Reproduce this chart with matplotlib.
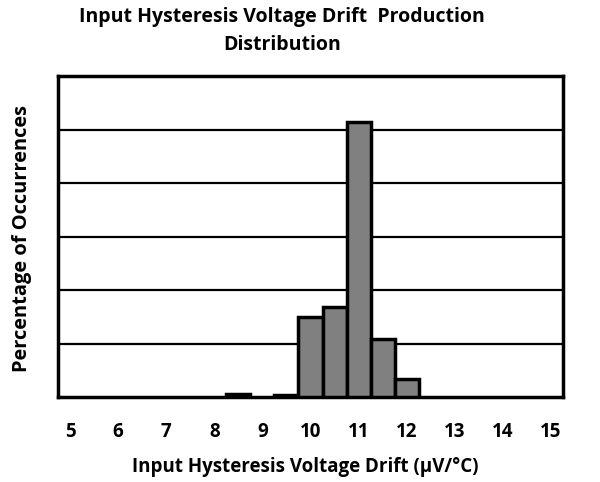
import matplotlib
matplotlib.use("Agg")
import matplotlib.pyplot as plt

# Data (bin centers in µV/°C, percentage of occurrences)
bin_centers = [8.5, 9.5, 10.0, 10.5, 11.0, 11.5, 12.0]
percentages = [0.5, 0.3, 14.9, 16.9, 51.4, 10.9, 3.3]
x_ticks = [5, 6, 7, 8, 9, 10, 11, 12, 13, 14, 15]

plt.rcParams['font.family'] = ['Open Sans', 'DejaVu Sans']

fig = plt.figure(figsize=(6, 4.82), dpi=100)
ax = fig.add_axes([58/600, 1-397/482, (563-58)/600, (397-76)/482])

ax.set_axisbelow(True)
ax.bar(bin_centers, percentages, width=0.5, color='#808080', edgecolor='black', linewidth=2.5, zorder=3)

ax.set_xlim(4.75, 15.25)
ax.set_ylim(0, 60)
ax.set_yticks([10, 20, 30, 40, 50])
ax.yaxis.grid(True, color='black', linewidth=1.6)
ax.set_yticklabels([])
ax.tick_params(axis='y', length=0)
ax.set_xticks(x_ticks)
ax.set_xticklabels([str(t) for t in x_ticks], fontsize=13.5, fontweight='bold')
ax.tick_params(axis='x', length=0, pad=18)
for s in ax.spines.values():
    s.set_linewidth(2.5)
    s.set_color('black')

fig.text(282/600, 1-17/482, 'Input Hysteresis Voltage Drift  Production', ha='center', va='center',
         fontsize=14, fontweight='bold')
fig.text(282/600, 1-45/482, 'Distribution', ha='center', va='center', fontsize=14, fontweight='bold')
fig.text(22/600, 1-238/482, 'Percentage of Occurrences', rotation=90, ha='center', va='center',
         fontsize=14.4, fontweight='bold')
fig.text(305/600, 1-467/482, 'Input Hysteresis Voltage Drift (µV/°C)', ha='center', va='center',
         fontsize=13.5, fontweight='bold')

fig.savefig('out.png', dpi=100)
